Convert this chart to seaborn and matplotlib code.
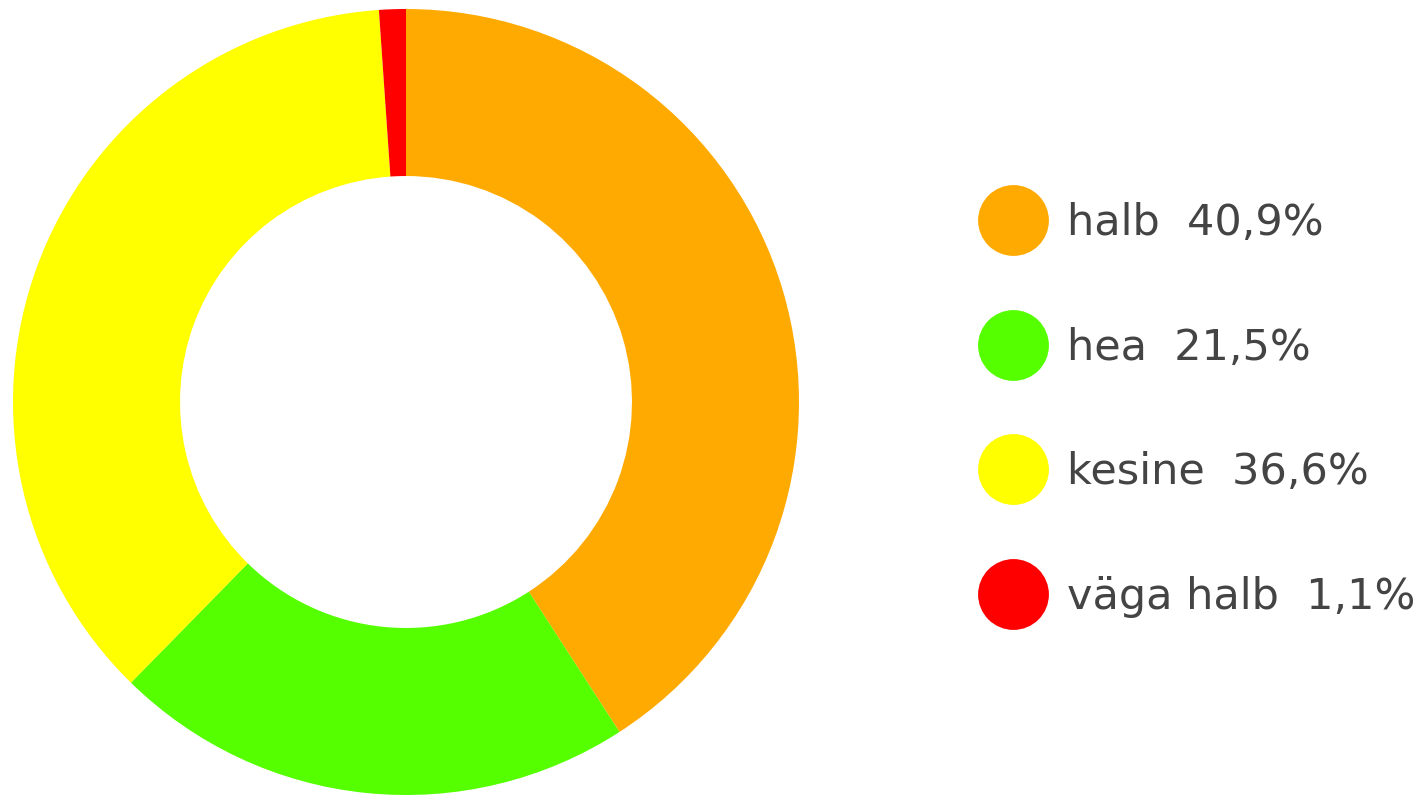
import matplotlib
matplotlib.use("Agg")
import matplotlib.pyplot as plt
from matplotlib.lines import Line2D
import seaborn as sns

# data
categories = ["halb", "hea", "kesine", "väga halb"]
shares = [40.9, 21.5, 36.6, 1.1]
colors = ["#FFAA00", "#55FF00", "#FFFF00", "#FF0000"]

sns.set_theme(style="white")
plt.rcParams["font.family"] = ["DejaVu Sans"]

fig = plt.figure(figsize=(14.18, 7.97), dpi=100)
ax = fig.add_axes([13 / 1418, 2 / 797, 786 / 1418, 786 / 797])

ax.pie(shares, colors=colors, startangle=90, counterclock=False,
       radius=1.0, wedgeprops=dict(width=0.425, linewidth=0))
ax.set_xlim(-1, 1)
ax.set_ylim(-1, 1)
ax.set_aspect("equal")
ax.axis("off")

labels = [f"{c}  {str(v).replace('.', ',')}%" for c, v in zip(categories, shares)]
handles = [Line2D([], [], marker="o", linestyle="", markersize=51,
                  markerfacecolor=col, markeredgewidth=0) for col in colors]
leg = fig.legend(handles, labels, loc="center left",
                 bbox_to_anchor=(989 / 1418, 1 - 410 / 797),
                 frameon=False, fontsize=31, labelspacing=1.92,
                 handlelength=1.1, handletextpad=0.71, borderpad=0,
                 borderaxespad=0, labelcolor="#444444")

fig.savefig("out.png", dpi=100, facecolor="white")
